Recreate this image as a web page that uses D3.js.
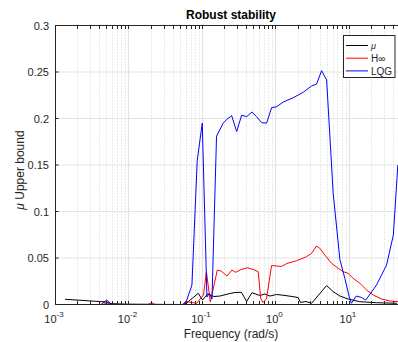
<!DOCTYPE html>
<html>
<head>
<meta charset="utf-8">
<script src="https://cdn.jsdelivr.net/npm/d3@7"></script>
<style>
  html, body { margin: 0; padding: 0; background: #fff; }
  svg { display: block; font-family: "Liberation Sans", Arial, Helvetica, sans-serif; }
</style>
</head>
<body>
<svg id="chart" width="398" height="342"></svg>
<script>
// Frequency grid (rad/s) and structured singular value upper bounds per controller
const freqMu = [0.00137, 0.00505, 0.0056, 0.00895, 0.0551, 0.0619, 0.0891, 0.102, 0.119, 0.146, 0.176, 0.226, 0.281, 0.345, 0.406, 0.479, 0.615, 0.719, 0.841, 1.04, 1.35, 1.68, 2.04, 2.19, 2.60, 3.11, 4.98, 6.11, 7.55, 9.78, 14.1, 23.8, 45.0];
const muVals  = [0.0056, 0.0027, 0.0010, 0.0004, 0.0000, 0.0016, 0.0120, 0.0048, 0.0113, 0.0086, 0.0091, 0.0113, 0.0129, 0.0131, 0.0032, 0.0127, 0.0097, 0.0113, 0.0091, 0.0108, 0.0097, 0.0086, 0.0075, 0.0022, 0.0032, 0.0013, 0.0204, 0.0138, 0.0091, 0.0059, 0.0030, 0.0019, 0.0013];

const freqHinf = [0.001, 0.0045, 0.00505, 0.0056, 0.0184, 0.0207, 0.023, 0.0551, 0.0625, 0.0731, 0.0848, 0.105, 0.115, 0.130, 0.162, 0.185, 0.219, 0.256, 0.286, 0.340, 0.416, 0.509, 0.583, 0.631, 0.676, 0.755, 0.887, 1.04, 1.21, 1.43, 1.94, 2.65, 3.11, 3.63, 4.03, 4.71, 5.82, 7.15, 8.36, 9.78, 11.4, 14.1, 17.4, 21.4, 27.9, 36.1, 46.4, 62.8];
const hinfVals = [0, 0, 0.0020, 0, 0, 0.0020, 0, 0, 0.0032, 0.0020, 0.0013, 0.0102, 0.0353, 0.0027, 0.0371, 0.0357, 0.0306, 0.0371, 0.0346, 0.0376, 0.0395, 0.0374, 0.0353, 0.0067, 0.0022, 0.0059, 0.0419, 0.0414, 0.0409, 0.0441, 0.0471, 0.0514, 0.0550, 0.0629, 0.0604, 0.0532, 0.0443, 0.0389, 0.0353, 0.0335, 0.0282, 0.0228, 0.0156, 0.0102, 0.0059, 0.0038, 0.0030, 0.0025];

const freqLqg = [0.001, 0.00423, 0.00505, 0.00597, 0.0551, 0.0619, 0.0731, 0.0863, 0.101, 0.117, 0.126, 0.137, 0.158, 0.195, 0.217, 0.254, 0.297, 0.347, 0.406, 0.479, 0.555, 0.649, 0.759, 0.887, 1.04, 1.28, 1.75, 2.39, 3.11, 3.63, 4.25, 4.98, 6.11, 7.55, 8.83, 10.1, 10.8, 12.6, 14.9, 17.0, 23.8, 32.6, 40.3, 46.4];
const lqgVals  = [0, 0, 0.0048, 0, 0, 0.0043, 0.021, 0.155, 0.195, 0.008, 0.012, 0.006, 0.181, 0.195, 0.199, 0.203, 0.186, 0.2035, 0.202, 0.207, 0.202, 0.1955, 0.195, 0.2116, 0.2127, 0.2177, 0.2224, 0.2282, 0.235, 0.237, 0.2514, 0.2414, 0.120, 0.048, 0.028, 0.0084, 0.0013, 0.0091, 0.0075, 0.0048, 0.021, 0.0425, 0.0747, 0.150];

const seriesNames = ["μ", "H∞", "LQG"];
const seriesColors = ["#000000", "#ff0000", "#0000ff"];

const yTicks = [0, 0.05, 0.1, 0.15, 0.2, 0.25, 0.3];
const yTickLabels = ["0", "0.05", "0.1", "0.15", "0.2", "0.25", "0.3"];
const xTickExps = [-3, -2, -1, 0, 1];
const xMin = 1e-3, xMax = 62.8;

const axisColor = "#262626";
const svg = d3.select("#chart");
const plot = { left: 55, right: 407.5, top: 25.5, bottom: 304.5 };

const x = d3.scaleLog().domain([xMin, xMax]).range([plot.left, plot.right]);
const y = d3.scaleLinear().domain([0, 0.3]).range([plot.bottom, plot.top]);

// minor decade positions 2..9 × 10^k inside the axis range
const minorTicks = [];
for (let k = -3; k <= 1; k++) {
  for (let m = 2; m <= 9; m++) {
    const v = m * Math.pow(10, k);
    if (v > xMin && v < xMax) minorTicks.push(v);
  }
}
const majorTicks = xTickExps.map(e => Math.pow(10, e));

const g = svg.append("g");

// grid: dotted minor verticals, solid light major lines
g.append("g").selectAll("line").data(minorTicks).join("line")
  .attr("x1", d => Math.round(x(d)) + 0.5).attr("x2", d => Math.round(x(d)) + 0.5)
  .attr("y1", plot.top).attr("y2", plot.bottom)
  .attr("stroke", "#d4d4d4").attr("stroke-width", 1).attr("stroke-dasharray", "1,2");
g.append("g").selectAll("line").data(majorTicks).join("line")
  .attr("x1", d => Math.round(x(d)) + 0.5).attr("x2", d => Math.round(x(d)) + 0.5)
  .attr("y1", plot.top).attr("y2", plot.bottom)
  .attr("stroke", "#e3e3e3").attr("stroke-width", 1.2);
g.append("g").selectAll("line").data(yTicks).join("line")
  .attr("x1", plot.left).attr("x2", plot.right)
  .attr("y1", d => y(d)).attr("y2", d => y(d))
  .attr("stroke", "#e3e3e3").attr("stroke-width", 1.2);

// data lines, clipped to the axes box
svg.append("clipPath").attr("id", "clip").append("rect")
  .attr("x", plot.left).attr("y", plot.top)
  .attr("width", plot.right - plot.left).attr("height", plot.bottom - plot.top);

const line = d3.line().x(d => x(d[0])).y(d => y(d[1]));
const series = [
  d3.zip(freqMu, muVals),
  d3.zip(freqHinf, hinfVals),
  d3.zip(freqLqg, lqgVals)
];
const lines = svg.append("g").attr("clip-path", "url(#clip)");
series.forEach((s, i) => {
  lines.append("path").datum(s)
    .attr("d", line)
    .attr("fill", "none")
    .attr("stroke", seriesColors[i])
    .attr("stroke-width", 1)
    .attr("stroke-linejoin", "round");
});

// axes box lines
const ax = svg.append("g").attr("stroke", axisColor).attr("stroke-width", 1).attr("fill", "none");
ax.append("line").attr("x1", plot.left).attr("x2", plot.right).attr("y1", plot.bottom).attr("y2", plot.bottom);
ax.append("line").attr("x1", plot.left).attr("x2", plot.right).attr("y1", plot.top).attr("y2", plot.top);
ax.append("line").attr("x1", plot.left + 0.5).attr("x2", plot.left + 0.5).attr("y1", plot.top).attr("y2", plot.bottom);

// inward ticks on bottom and top
const tickLen = 3.5;
[...majorTicks, ...minorTicks].forEach(v => {
  const px = Math.round(x(v)) + 0.5;
  ax.append("line").attr("x1", px).attr("x2", px).attr("y1", plot.bottom).attr("y2", plot.bottom - tickLen);
  ax.append("line").attr("x1", px).attr("x2", px).attr("y1", plot.top).attr("y2", plot.top + tickLen);
});
yTicks.forEach(v => {
  ax.append("line").attr("x1", plot.left).attr("x2", plot.left + tickLen).attr("y1", y(v)).attr("y2", y(v));
});

// x tick labels: 10^k
const xl = svg.append("g").attr("fill", axisColor).attr("font-size", 11);
xTickExps.forEach(e => {
  const t = xl.append("text").attr("x", x(Math.pow(10, e)) - 1).attr("y", 323).attr("text-anchor", "middle");
  t.append("tspan").text("10");
  t.append("tspan").attr("dy", -6).attr("font-size", 8).text(e);
});

// y tick labels
const yl = svg.append("g").attr("fill", axisColor).attr("font-size", 11).attr("text-anchor", "end");
yTicks.forEach((v, i) => {
  yl.append("text").attr("x", 49).attr("y", y(v) + 4).text(yTickLabels[i]);
});

// title and axis labels
svg.append("text").attr("x", 231).attr("y", 18.5).attr("text-anchor", "middle")
  .attr("font-size", 12).attr("font-weight", "bold").attr("fill", "#000").text("Robust stability");
svg.append("text").attr("x", 231).attr("y", 338).attr("text-anchor", "middle")
  .attr("font-size", 12).attr("fill", axisColor).text("Frequency (rad/s)");
const ylab = svg.append("text").attr("transform", "translate(23.5,170) rotate(-90)")
  .attr("text-anchor", "middle").attr("font-size", 12).attr("fill", axisColor);
ylab.append("tspan").attr("font-style", "italic").text("μ");
ylab.append("tspan").text(" Upper bound");

// legend
const lg = svg.append("g");
lg.append("rect").attr("x", 343.5).attr("y", 35.5).attr("width", 51.5).attr("height", 42)
  .attr("fill", "#fff").attr("stroke", axisColor).attr("stroke-width", 1);
seriesNames.forEach((name, i) => {
  const ly = 45.5 + i * 12.7;
  lg.append("line").attr("x1", 346).attr("x2", 368).attr("y1", ly).attr("y2", ly)
    .attr("stroke", seriesColors[i]).attr("stroke-width", 1);
  lg.append("text").attr("x", 371).attr("y", ly + 3.8).attr("font-size", i === 0 ? 9 : 10)
    .attr("font-style", i === 0 ? "italic" : "normal")
    .attr("fill", axisColor).text(name);
});
</script>
</body>
</html>
